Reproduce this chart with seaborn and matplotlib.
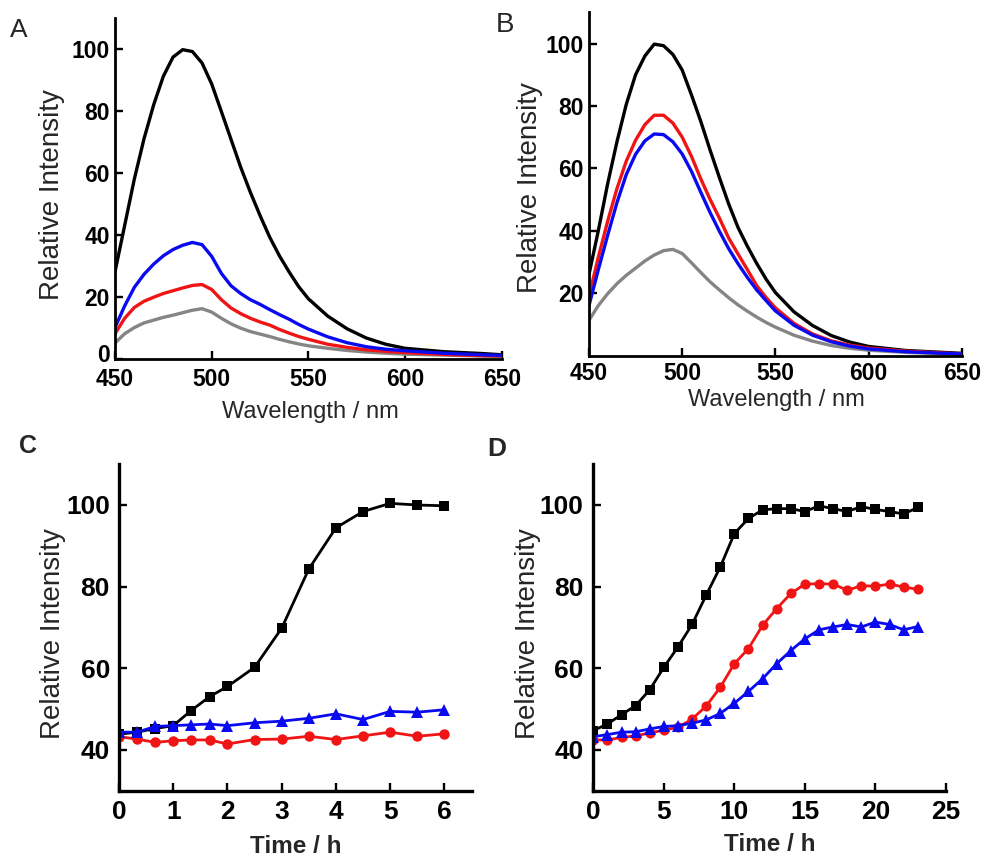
import matplotlib
matplotlib.use("Agg")
import matplotlib.pyplot as plt
import matplotlib.transforms as mtransforms
import seaborn as sns
import pandas as pd

# ---------------- data ----------------
wavelength = [450, 455, 460, 465, 470, 475, 480, 485, 490, 495, 500, 505, 510, 515,
              520, 525, 530, 535, 540, 545, 550, 560, 570, 580, 590, 600, 620, 640, 650]

a_black = [28, 43, 58, 71, 82, 91.2, 97.4, 99.8, 99.2, 95.5, 88.7, 79.8, 70.8, 61.8,
           53.7, 46.2, 39.2, 33.2, 28, 23.2, 19.3, 13.7, 9.6, 6.6, 4.6, 3.3, 2.2, 1.6, 1.2]
a_blue = [10, 17, 23, 27.2, 30.5, 33.2, 35.2, 36.6, 37.5, 36.8, 33, 27.5, 23.5, 21,
          19, 17.5, 15.8, 14.2, 12.7, 11, 9.5, 7, 5.1, 3.8, 3, 2.5, 1.7, 1.2, 1.0]
a_red = [8, 13, 16.5, 18.5, 19.8, 21, 21.9, 22.8, 23.6, 23.9, 22.3, 19, 16.3, 14.5,
         13, 11.8, 10.8, 9.4, 8.2, 7.1, 6.2, 4.6, 3.6, 2.8, 2.3, 1.9, 1.3, 0.9, 0.8]
a_gray = [5, 8, 10, 11.5, 12.4, 13.3, 14, 14.8, 15.6, 16.1, 15, 13, 11.2, 9.8,
          8.7, 7.9, 7.1, 6.2, 5.4, 4.7, 4.1, 3.3, 2.6, 2.1, 1.7, 1.4, 1.1, 0.8, 0.7]

b_black = [26, 40, 55, 68.5, 80.5, 90, 96, 99.8, 99.3, 96.5, 91.5, 83.5, 75, 65.8,
           57, 48.5, 41, 35, 29.5, 24.5, 20.2, 14, 9.6, 6.4, 4.3, 2.9, 1.6, 1.0, 0.7]
b_red = [19, 31.5, 43, 53.5, 62.3, 69, 74, 77, 77, 74.5, 70, 63.8, 56.6, 50,
         44, 37.6, 32.5, 27.5, 22.4, 18.6, 15.3, 10.3, 6.9, 4.7, 3.3, 2.4, 1.4, 0.8, 0.5]
b_blue = [16, 27.5, 38.5, 49, 58, 64.5, 68.8, 71, 70.8, 68.5, 64.6, 59, 52.3, 45.8,
          39.8, 34.2, 29.4, 25, 21, 17.6, 14.3, 9.7, 6.5, 4.4, 3, 2.1, 1.2, 0.7, 0.5]
b_gray = [11.3, 16, 19.8, 23, 25.7, 28, 30.3, 32.2, 33.6, 34, 32.7, 29.7, 26.6, 23.6,
          21, 18.5, 16.2, 14.2, 12.3, 10.6, 9.1, 6.5, 4.6, 3.2, 2.3, 1.7, 1.0, 0.6, 0.4]

time_c = [0, 0.33, 0.67, 1, 1.33, 1.67, 2, 2.5, 3, 3.5, 4, 4.5, 5, 5.5, 6]
c_black = [43.8, 44.3, 45.2, 45.9, 49.6, 53.0, 55.5, 60.2, 69.8, 84.3, 94.4, 98.4, 100.4, 100, 99.8]
c_blue = [44.3, 44.3, 45.7, 45.9, 46.1, 46.3, 45.9, 46.6, 47.0, 47.7, 48.8, 47.4, 49.4, 49.2, 49.8]
c_red = [43.2, 42.6, 41.8, 42.2, 42.4, 42.4, 41.4, 42.5, 42.6, 43.3, 42.5, 43.4, 44.3, 43.3, 43.9]

time_d = list(range(24))
d_black = [44.7, 46.3, 48.6, 50.8, 54.7, 60.2, 65.2, 70.7, 77.9, 84.8, 93.0, 96.7,
           98.8, 99.1, 99.1, 98.4, 99.8, 99.1, 98.4, 99.6, 98.9, 98.4, 97.8, 99.4]
d_red = [42.4, 42.4, 43.0, 43.4, 44.1, 44.8, 45.5, 47.5, 50.7, 55.3, 61.1, 64.8,
         70.5, 74.6, 78.3, 80.6, 80.7, 80.6, 79.1, 80.2, 80.1, 80.6, 79.9, 79.3]
d_blue = [43.2, 43.7, 44.3, 44.4, 45.1, 45.7, 45.9, 46.5, 47.3, 48.9, 51.4, 54.3,
          57.4, 61.1, 64.3, 67.2, 69.4, 70.1, 70.7, 70.1, 71.3, 70.7, 69.4, 70.2]

spectral_ticks = [450, 500, 550, 600, 650]

# ---------------- style ----------------
sns.set_style("ticks")
plt.rcParams["font.family"] = ["Liberation Sans", "DejaVu Sans"]
plt.rcParams["lines.solid_joinstyle"] = "round"
plt.rcParams["lines.solid_capstyle"] = "round"

BLACK = "#000000"
BLUE = "#0a0af0"
RED = "#f01414"
GRAY = "#858585"

fig = plt.figure(figsize=(9.85, 8.61), dpi=100)

axA = fig.add_axes([115 / 985, 1 - 358.5 / 861, 386.8 / 985, 340.4 / 861])
axB = fig.add_axes([589 / 985, 1 - 355.5 / 861, 372.7 / 985, 343.2 / 861])
axC = fig.add_axes([119 / 985, 1 - 790.5 / 861, 352.5 / 985, 326.3 / 861])
axD = fig.add_axes([593.3 / 985, 1 - 790.5 / 861, 352.7 / 985, 326.3 / 861])


def spectrum(ax, y, color):
    sns.lineplot(x=wavelength, y=y, color=color, linewidth=2.4, ax=ax, sort=False)


for ax, series in [(axA, [(a_black, BLACK), (a_gray, GRAY), (a_red, RED), (a_blue, BLUE)]),
                   (axB, [(b_gray, GRAY), (b_black, BLACK), (b_red, RED), (b_blue, BLUE)])]:
    for y, col in series:
        spectrum(ax, y, col)
    ax.set_xlim(450, 650)
    ax.set_ylim(0, 110)
    ax.set_xticks(spectral_ticks)

axA.set_yticks([0, 20, 40, 60, 80, 100])
axB.set_yticks([20, 40, 60, 80, 100])


def kinetic(ax, t, y, color, marker, ms):
    sns.lineplot(x=t, y=y, color=color, linewidth=2.0, marker=marker,
                 markersize=ms, markeredgewidth=0, ax=ax, sort=False)


kinetic(axC, time_c, c_black, BLACK, "s", 7)
kinetic(axC, time_c, c_red, RED, "o", 7.5)
kinetic(axC, time_c, c_blue, BLUE, "^", 8.2)
axC.set_xlim(0, 6.5)
axC.set_xticks([0, 1, 2, 3, 4, 5, 6])

kinetic(axD, time_d, d_black, BLACK, "s", 6.5)
kinetic(axD, time_d, d_red, RED, "o", 7.3)
kinetic(axD, time_d, d_blue, BLUE, "^", 8)
axD.set_xlim(0, 25)
axD.set_xticks([0, 5, 10, 15, 20, 25])

for ax in (axC, axD):
    ax.set_ylim(30, 110)
    ax.set_yticks([40, 60, 80, 100])

# axes cosmetics
for ax, tfs, sw in [(axA, 16.5, 2.0), (axB, 16.5, 2.0), (axC, 19, 2.4), (axD, 19, 2.4)]:
    sns.despine(ax=ax)
    for s in ("left", "bottom"):
        ax.spines[s].set_linewidth(sw)
        ax.spines[s].set_color("black")
    ax.tick_params(direction="in", length=6, width=1.7, colors="black")
    for lab in ax.get_xticklabels() + ax.get_yticklabels():
        lab.set_fontweight("bold")
        lab.set_fontsize(tfs)

axA.tick_params(axis="y", pad=3.6)
axA.tick_params(axis="x", pad=6.5)
axB.tick_params(axis="y", pad=3.6)
axB.tick_params(axis="x", pad=5)
axC.tick_params(axis="y", pad=6.5)
axC.tick_params(axis="x", pad=7)
axD.tick_params(axis="y", pad=7)
axD.tick_params(axis="x", pad=7)

# lift the "0" label of panel A slightly (as in the reference) so it clears "450"
zero_lab = axA.yaxis.get_major_ticks()[0].label1
zero_lab.set_transform(zero_lab.get_transform()
                       + mtransforms.ScaledTranslation(0, 5 / 100, fig.dpi_scale_trans))

# axis labels
for ax, xl, ylc, xlc, xw in [
    (axA, "Wavelength / nm", (-0.163, 0.483), (0.504, -0.157), "normal"),
    (axB, "Wavelength / nm", (-0.158, 0.488), (0.502, -0.130), "normal"),
    (axC, "Time / h", (-0.187, 0.48), (0.502, -0.172), "bold"),
    (axD, "Time / h", (-0.185, 0.48), (0.501, -0.166), "bold"),
]:
    ax.set_ylabel("Relative Intensity", fontsize=20, va="center")
    ax.yaxis.set_label_coords(*ylc)
    ax.set_xlabel(xl, fontsize=17.5 if xw == "bold" else 17, fontweight=xw, va="center")
    ax.xaxis.set_label_coords(*xlc)

# panel letters
fig.text(19 / 985, 1 - 30 / 861, "A", fontsize=19, ha="center", va="center")
fig.text(505 / 985, 1 - 25 / 861, "B", fontsize=20, ha="center", va="center")
fig.text(28 / 985, 1 - 446 / 861, "C", fontsize=18, fontweight="bold", ha="center", va="center")
fig.text(497 / 985, 1 - 449 / 861, "D", fontsize=19, fontweight="bold", ha="center", va="center")

fig.savefig("out.png", dpi=100, facecolor="white")
